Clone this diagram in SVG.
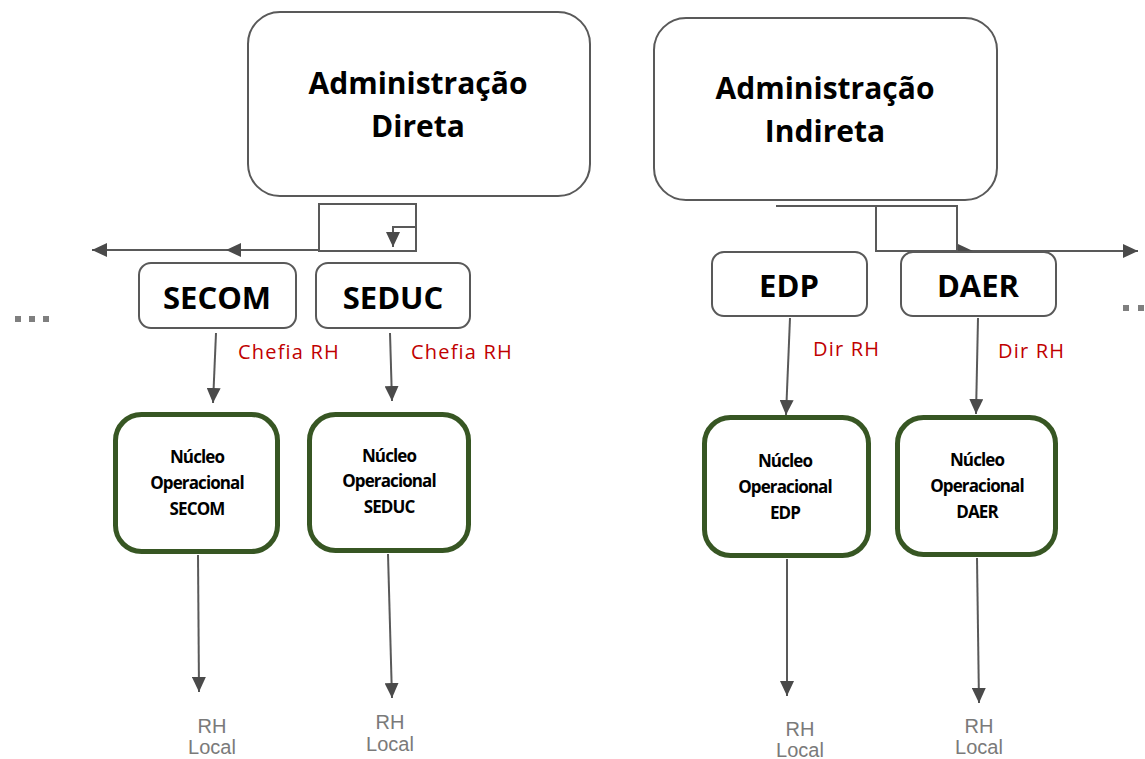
<svg xmlns="http://www.w3.org/2000/svg" width="1145" height="759" viewBox="0 0 1145 759">
<defs>
<marker id="ah" markerUnits="userSpaceOnUse" markerWidth="16" markerHeight="14" refX="15" refY="7" orient="auto">
<path d="M0,0 L15,7 L0,14 Z" fill="#4a4a4a"/>
</marker>
<style>
.box{fill:#fff;stroke:#595959;stroke-width:2}
.nuc{fill:#fff;stroke:#375623;stroke-width:5}
.t1{font-family:"Open Sans","DejaVu Sans",sans-serif;font-weight:bold;fill:#000;text-anchor:middle}
.big{font-size:30px}
.mid{font-size:31px}
.sm{font-family:"Open Sans","DejaVu Sans",sans-serif;font-weight:bold;font-size:17px;letter-spacing:-0.9px;fill:#000;text-anchor:middle}
.red{font-family:"Open Sans","DejaVu Sans",sans-serif;font-size:20px;letter-spacing:1.2px;fill:#c00000}
.rh{font-family:"Liberation Sans",Arial,sans-serif;font-size:20px;fill:#7a7a7a;text-anchor:middle}
.ln{fill:none;stroke:#595959;stroke-width:2}
.dot{fill:#7f7f7f}
</style>
</defs>
<rect width="1145" height="759" fill="#fff"/>

<g id="connectors">
<path class="ln" d="M319,204 H416 V251 H319 V204 Z"/>
<path class="ln" d="M319,250 H92" marker-end="url(#ah)"/>
<path class="ln" d="M319,250 H226" marker-end="url(#ah)"/>
<path class="ln" d="M416,227 H393 V247" marker-end="url(#ah)"/>
<path class="ln" d="M776,206 H957 V251"/>
<path class="ln" d="M876,206 V251 H1138" marker-end="url(#ah)"/>
<path class="ln" d="M876,251 H973" marker-end="url(#ah)"/>
<path class="ln" d="M216,333 L213,403" marker-end="url(#ah)"/>
<path class="ln" d="M390,333 L392,401" marker-end="url(#ah)"/>
<path class="ln" d="M790,318 L786,415" marker-end="url(#ah)"/>
<path class="ln" d="M978,318 L976,414" marker-end="url(#ah)"/>
<path class="ln" d="M198,555 L199,692" marker-end="url(#ah)"/>
<path class="ln" d="M388,554 L392,698" marker-end="url(#ah)"/>
<path class="ln" d="M787,559 L787,696" marker-end="url(#ah)"/>
<path class="ln" d="M977,558 L979,703" marker-end="url(#ah)"/>
</g>

<g id="adm-direta">
<rect class="box" x="248" y="12" width="342" height="184" rx="32"/>
<text class="t1 big" x="418" y="94">Administração</text>
<text class="t1 big" x="418" y="137">Direta</text>
</g>
<g id="adm-indireta">
<rect class="box" x="654" y="18" width="343" height="182" rx="32"/>
<text class="t1 big" x="825" y="99">Administração</text>
<text class="t1 big" x="825" y="142">Indireta</text>
</g>

<g id="secom">
<rect class="box" x="139" y="263" width="157" height="65" rx="12"/>
<text class="t1 mid" x="217" y="309">SECOM</text>
</g>
<g id="seduc">
<rect class="box" x="316" y="263" width="154" height="65" rx="12"/>
<text class="t1 mid" x="393" y="309">SEDUC</text>
</g>
<g id="edp">
<rect class="box" x="712" y="252" width="155" height="64" rx="12"/>
<text class="t1 mid" x="789" y="297">EDP</text>
</g>
<g id="daer">
<rect class="box" x="901" y="252" width="155" height="64" rx="12"/>
<text class="t1 mid" x="978" y="297">DAER</text>
</g>

<g id="labels">
<text class="red" x="238" y="359">Chefia RH</text>
<text class="red" x="411" y="359">Chefia RH</text>
<text class="red" x="813" y="356">Dir RH</text>
<text class="red" x="998" y="358">Dir RH</text>
</g>

<g id="nuc-secom">
<rect class="nuc" x="115.5" y="414.5" width="162" height="137" rx="26"/>
<text class="sm" x="197" y="463">Núcleo</text>
<text class="sm" x="197" y="489">Operacional</text>
<text class="sm" x="197" y="515">SECOM</text>
</g>
<g id="nuc-seduc">
<rect class="nuc" x="309.5" y="414.5" width="159" height="136" rx="26"/>
<text class="sm" x="389" y="462">Núcleo</text>
<text class="sm" x="389" y="487">Operacional</text>
<text class="sm" x="389" y="513">SEDUC</text>
</g>
<g id="nuc-edp">
<rect class="nuc" x="704.5" y="417.5" width="164" height="138" rx="26"/>
<text class="sm" x="785" y="467">Núcleo</text>
<text class="sm" x="785" y="493">Operacional</text>
<text class="sm" x="785" y="519">EDP</text>
</g>
<g id="nuc-daer">
<rect class="nuc" x="897.5" y="417.5" width="158" height="137" rx="26"/>
<text class="sm" x="977" y="466">Núcleo</text>
<text class="sm" x="977" y="492">Operacional</text>
<text class="sm" x="977" y="518">DAER</text>
</g>

<g id="rh-locals">
<text class="rh" x="212" y="733">RH</text>
<text class="rh" x="212" y="754">Local</text>
<text class="rh" x="390" y="729">RH</text>
<text class="rh" x="390" y="751">Local</text>
<text class="rh" x="800" y="736">RH</text>
<text class="rh" x="800" y="757">Local</text>
<text class="rh" x="979" y="733">RH</text>
<text class="rh" x="979" y="754">Local</text>
</g>

<g id="dots">
<rect class="dot" x="15" y="316" width="6" height="6"/>
<rect class="dot" x="29" y="316" width="6" height="6"/>
<rect class="dot" x="43" y="316" width="6" height="6"/>
<rect class="dot" x="1123" y="305" width="6" height="6"/>
<rect class="dot" x="1138" y="305" width="6" height="6"/>
</g>
</svg>
